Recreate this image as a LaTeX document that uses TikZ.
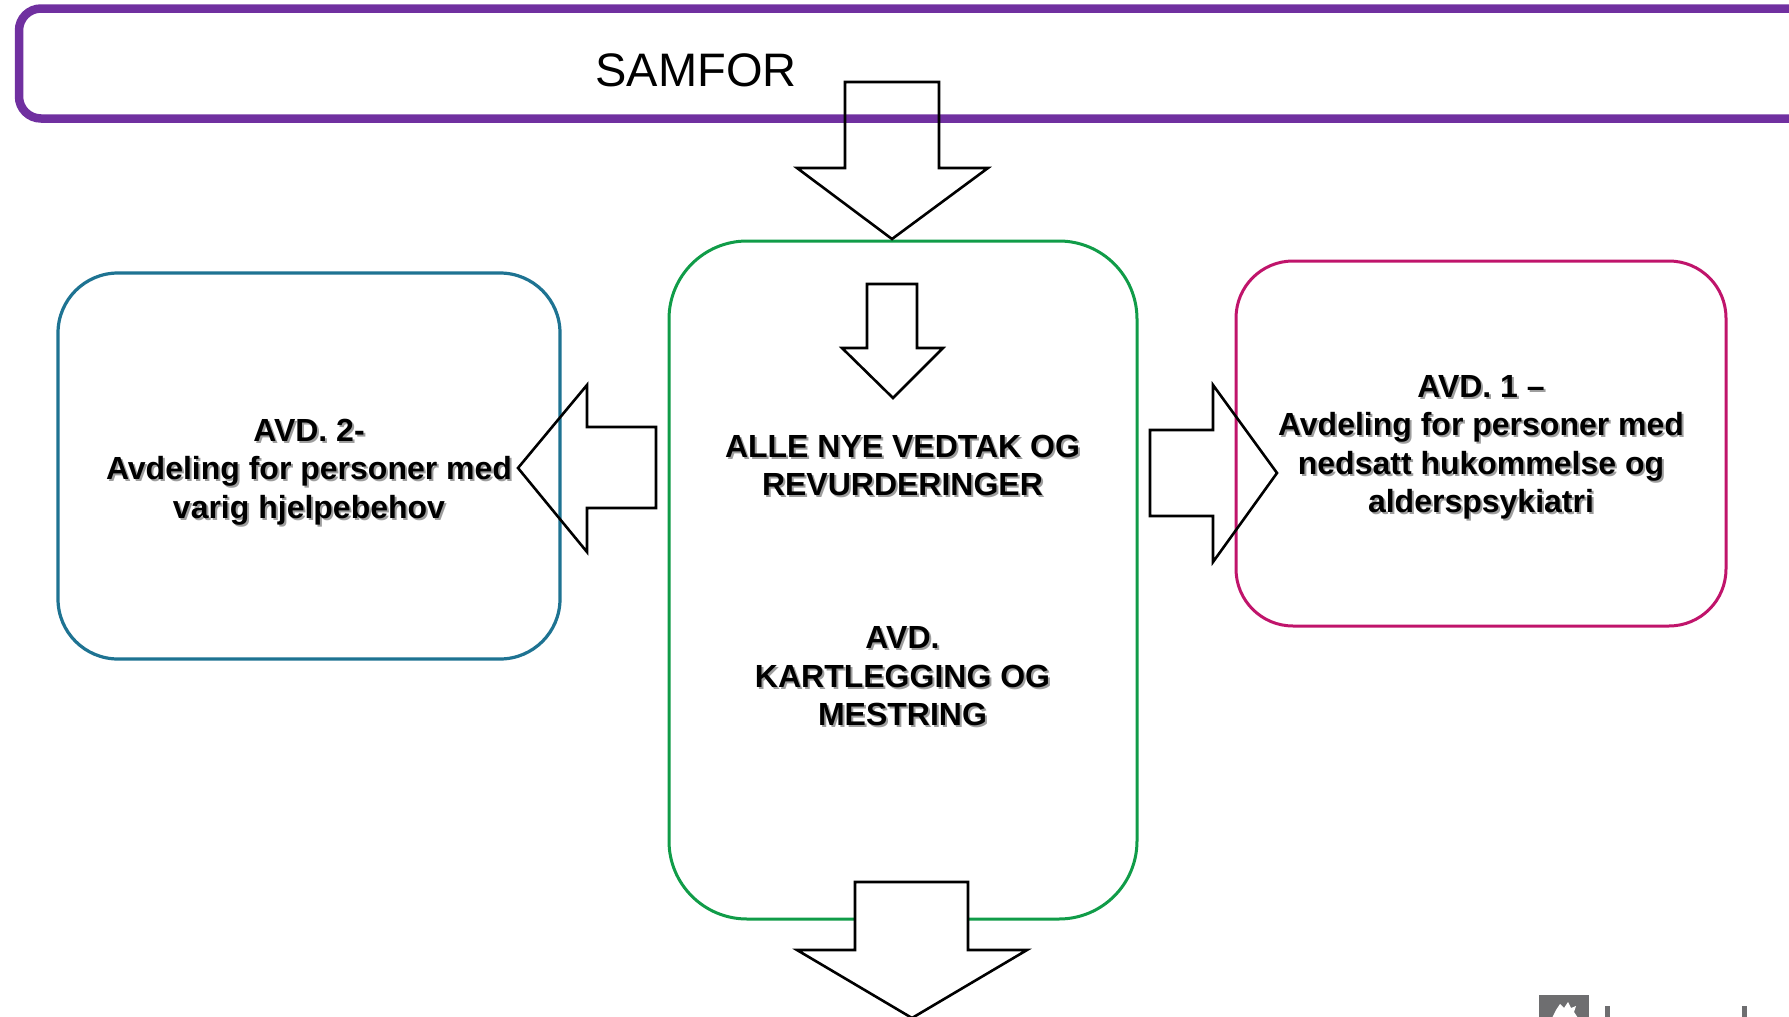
\documentclass[tikz,border=0pt]{standalone}
\usepackage{fontspec}
\setmainfont{Liberation Sans}
\definecolor{samforpurple}{HTML}{7030A0}
\definecolor{kartgreen}{HTML}{109C48}
\definecolor{avdblue}{HTML}{1E7392}
\definecolor{avdmagenta}{HTML}{C0146B}
\definecolor{logogray}{HTML}{6E6E70}
\newcommand\txtAvdTo{AVD. 2-\\Avdeling for personer med\\varig hjelpebehov}
\newcommand\txtAvdEn{AVD. 1 --\\Avdeling for personer med\\nedsatt hukommelse og\\alderspsykiatri}
\newcommand\txtAlle{ALLE NYE VEDTAK OG\\REVURDERINGER}
\newcommand\txtKart{AVD.\\KARTLEGGING OG\\MESTRING}
\begin{document}
\begin{tikzpicture}[x=1pt,y=-1pt,
  roundbox/.style={draw, rounded corners=#1, inner sep=0pt},
  blockarrow/.style={draw=black, line width=2.6pt, line join=miter, miter limit=10},
  lbl/.style={font=\bfseries\fontsize{32}{38.4}\selectfont, align=center, inner sep=0pt, text=black},
  lblshadow/.style={lbl, text=black!38},
]
\useasboundingbox (0,0) rectangle (1789,1017);
\fill[white] (0,0) rectangle (1789,1017);

% top SAMFOR band
\node[roundbox=22pt, draw=samforpurple, line width=8.5pt, minimum width=1801pt, minimum height=110pt] (samforbox) at (919.5,63.5) {};
\node[font=\fontsize{47}{56}\selectfont, inner sep=0pt] (samfor) at (696,70) {SAMFOR};

% boxes
\node[roundbox=78pt, draw=kartgreen, line width=3pt, minimum width=468pt, minimum height=678pt] (green) at (903,580) {};
\node[roundbox=60pt, draw=avdblue, line width=3.2pt, minimum width=502pt, minimum height=386pt] (blue) at (309,466) {};
\node[roundbox=57pt, draw=avdmagenta, line width=3pt, minimum width=490pt, minimum height=365pt] (magenta) at (1481,443.5) {};

% block arrows
\draw[blockarrow] (845,82) -- (939,82) -- (939,168) -- (988,168) -- (892,239) -- (797,168) -- (845,168) -- cycle;
\draw[blockarrow] (867,284) -- (917,284) -- (917,348) -- (943,348) -- (893,398) -- (842,348) -- (867,348) -- cycle;
\draw[blockarrow] (656,427) -- (587,427) -- (587,385) -- (518,468) -- (587,552) -- (587,508) -- (656,508) -- cycle;
\draw[blockarrow] (1150,430) -- (1213,430) -- (1213,385) -- (1277,473) -- (1213,562) -- (1213,516) -- (1150,516) -- cycle;
\draw[blockarrow, fill=white] (855,882) -- (968,882) -- (968,950) -- (1027,950) -- (912,1018) -- (797,950) -- (855,950) -- cycle;

% labels with shadow
\node[lblshadow] (avd2s) at (311,474) {\txtAvdTo};
\node[lbl] (avd2) at (309,472) {\txtAvdTo};
\node[lblshadow] (avd1s) at (1483,449.5) {\txtAvdEn};
\node[lbl] (avd1) at (1481,447.5) {\txtAvdEn};
\node[lblshadow] (alles) at (904.5,467.5) {\txtAlle};
\node[lbl] (alle) at (902.5,465.5) {\txtAlle};
\node[lblshadow] (karts) at (904.5,678.5) {\txtKart};
\node[lbl] (kart) at (902.5,676.5) {\txtKart};

% logo fragment bottom right
\fill[logogray] (1539,995) rectangle (1589,1020);
\fill[white] (1556,1010) -- (1560,1004) -- (1564,1008) -- (1568,1002) -- (1571,1008) -- (1576,1006) -- (1574,1012) -- (1578,1018) -- (1552,1018) -- cycle;
\fill[logogray] (1605,1006) rectangle (1610,1020);
\fill[logogray] (1742,1006) rectangle (1747,1020);
\end{tikzpicture}
\end{document}
